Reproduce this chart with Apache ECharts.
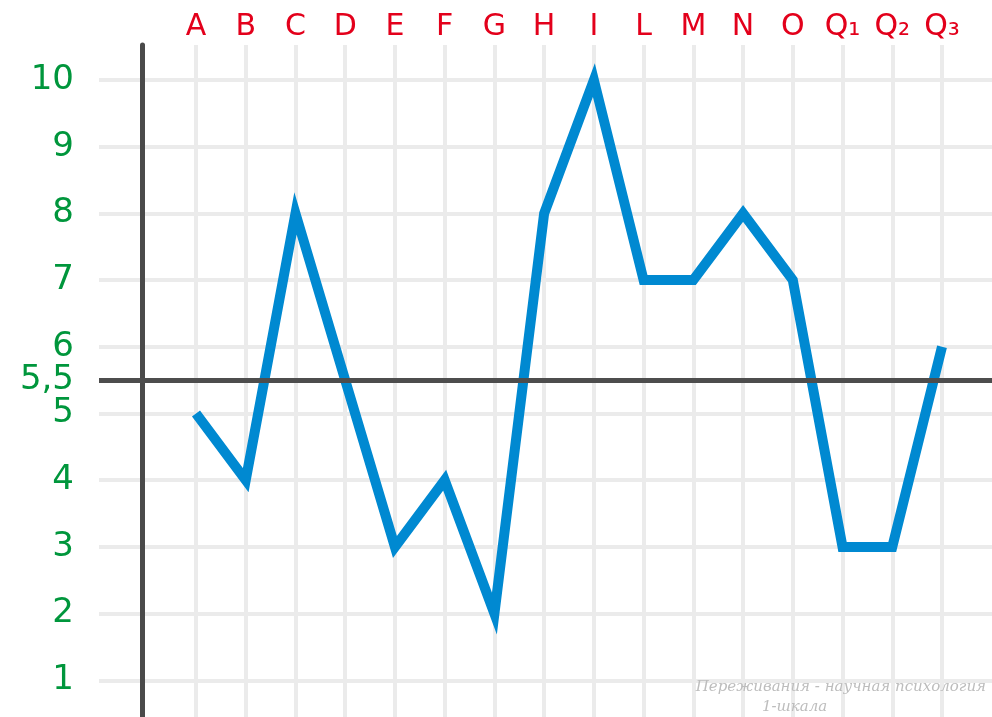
<!DOCTYPE html>
<html>
<head>
<meta charset="utf-8">
<script src="https://cdn.jsdelivr.net/npm/echarts@6/dist/echarts.min.js"></script>
<style>html,body{margin:0;padding:0;background:#fff;overflow:hidden;height:717px}#c{width:992px;height:747px}</style>
</head>
<body>
<div id="c"></div>
<script>
const categories = ['A','B','C','D','E','F','G','H','I','L','M','N','O','Q₁','Q₂','Q₃'];
const values = [5, 4, 8, 5.5, 3, 4, 2, 8, 10, 7, 7, 8, 7, 3, 3, 6];
const midValue = 5.5;
const midLabel = '5,5';
const yTicks = [1,2,3,4,5,6,7,8,9,10];
const credit1 = 'Переживания - научная психология';
const credit2 = '1-шкала';

const Y_MIN = 0, Y_MAX = 10.525;
const chart = echarts.init(document.getElementById('c'), null, {renderer: 'canvas'});
chart.setOption({
  backgroundColor: '#ffffff',
  animation: false,
  grid: [
    {left: 99, right: 0, top: 45, bottom: 0},
    {left: 196, right: 50, top: 45, bottom: 0}
  ],
  xAxis: [
    {type: 'value', gridIndex: 0, min: 0, max: 1, show: false},
    {type: 'category', gridIndex: 1, data: categories, boundaryGap: false, position: 'top',
     axisLine: {show: false}, axisTick: {show: false},
     axisLabel: {color: '#e3001b', fontSize: 30, fontFamily: 'DejaVu Sans', margin: 3},
     splitLine: {show: true, lineStyle: {color: '#ebebeb', width: 4}}}
  ],
  yAxis: [
    {type: 'value', gridIndex: 0, min: Y_MIN, max: Y_MAX, interval: 1,
     axisLine: {show: false}, axisTick: {show: false},
     axisLabel: {color: '#00963c', fontSize: 34, fontFamily: 'DejaVu Sans', margin: 25,
       showMaxLabel: false,
       formatter: v => yTicks.includes(v) ? String(v) : ''},
     splitLine: {show: true, showMaxLine: false, lineStyle: {color: '#ebebeb', width: 4}}},
    {type: 'value', gridIndex: 1, min: Y_MIN, max: Y_MAX, interval: 1, offset: 54,
     axisLine: {show: true, lineStyle: {color: '#4a4a4a', width: 5}},
     axisTick: {show: false}, axisLabel: {show: false}, splitLine: {show: false}}
  ],
  series: [
    {type: 'line', xAxisIndex: 1, yAxisIndex: 1, data: values, z: 3,
     symbol: 'none',
     lineStyle: {color: '#0089d1', width: 10, join: 'miter', miterLimit: 10}},
    {type: 'line', xAxisIndex: 0, yAxisIndex: 0, data: [], z: 5,
     markLine: {silent: true, symbol: 'none', animation: false,
       lineStyle: {color: '#4d4d4d', width: 5, type: 'solid'},
       label: {show: true, position: 'start', distance: 25, formatter: midLabel,
         color: '#00963c', fontSize: 34, fontFamily: 'DejaVu Sans'},
       data: [{yAxis: midValue}]}}
  ],
  graphic: [
    {type: 'text', right: 6, top: 680, z: 10,
     style: {text: credit1, fill: '#bdbdbd', font: 'italic 15px "DejaVu Serif"'}},
    {type: 'text', left: 762, top: 700, z: 10,
     style: {text: credit2, fill: '#bdbdbd', font: 'italic 15px "DejaVu Serif"'}}
  ]
});
</script>
</body>
</html>
